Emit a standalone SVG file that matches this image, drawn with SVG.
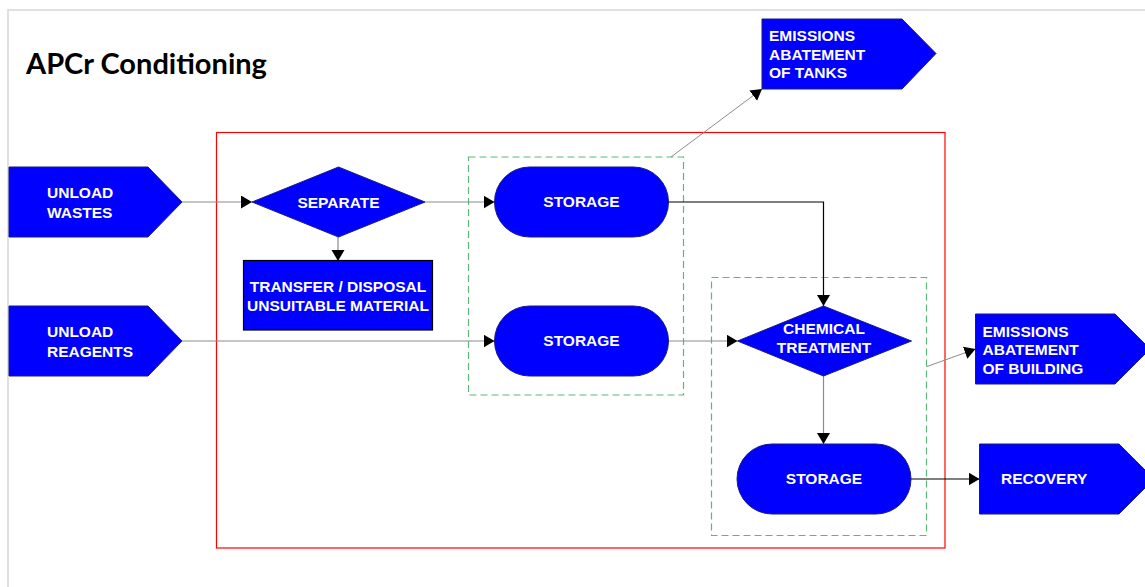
<svg xmlns="http://www.w3.org/2000/svg" width="1145" height="587" viewBox="0 0 1145 587">
<defs>
<style>
.frame{fill:none;stroke:#e0e0e0;stroke-width:2}
.node{fill:#0000ff;stroke:#1a1a80;stroke-width:1}
.box{fill:#0000ff;stroke:#000;stroke-width:1.2}
.lbl{font-family:"Liberation Sans",Arial,sans-serif;font-weight:bold;font-size:15.5px;fill:#fff}
.c{text-anchor:middle}
.gray{fill:none;stroke:#8c8c8c;stroke-width:1.2}
.black{fill:none;stroke:#000;stroke-width:1.2}
.thin{fill:none;stroke:#8c8c8c;stroke-width:1}
.dash{fill:none;stroke:#5cb87a;stroke-width:1.2;stroke-dasharray:7,4}
</style>
<marker id="arr" markerUnits="userSpaceOnUse" markerWidth="12" markerHeight="14" refX="11" refY="6.5" orient="auto">
<path d="M0,0 L11,6.5 L0,13 z" fill="#000"/>
</marker>
</defs>
<rect width="1145" height="587" fill="#fff"/>
<path class="frame" d="M8,587 V10 H1145"/>
<text x="26" y="73.5" font-family="Lato,'Open Sans',sans-serif" font-weight="bold" font-size="29" fill="#000">APCr Conditioning</text>
<rect x="216.5" y="132.5" width="728.5" height="415.5" fill="none" stroke="#f00" stroke-width="1.2"/>
<rect class="dash" x="468.5" y="157" width="215" height="238"/>
<rect class="dash" x="711.5" y="277.5" width="215" height="258"/>
<g id="connectors">
<path class="gray" d="M182,202 H252" marker-end="url(#arr)"/>
<path class="gray" d="M338,237 V261" marker-end="url(#arr)"/>
<path class="gray" d="M425,202 H494.5" marker-end="url(#arr)"/>
<path class="gray" d="M182,341 H494.5" marker-end="url(#arr)"/>
<path class="gray" d="M668,341 H737.5" marker-end="url(#arr)"/>
<path class="black" d="M668,202 H823.5 V306" marker-end="url(#arr)"/>
<path class="gray" d="M823.5,376 V444" marker-end="url(#arr)"/>
<path class="black" d="M911,479 H979.5" marker-end="url(#arr)"/>
<path class="thin" d="M671,157 L762,89" marker-end="url(#arr)"/>
<path class="thin" d="M927,366.5 L975.5,349" marker-end="url(#arr)"/>
</g>
<g id="unload-wastes">
<path class="node" d="M9,167 H148 L182,202 L148,237 H9 Z"/>
<text class="lbl" x="47" y="198">UNLOAD</text>
<text class="lbl" x="47" y="217.5">WASTES</text>
</g>
<g id="unload-reagents">
<path class="node" d="M9,306 H148 L182,341 L148,376 H9 Z"/>
<text class="lbl" x="47" y="337">UNLOAD</text>
<text class="lbl" x="47" y="356.5">REAGENTS</text>
</g>
<g id="separate">
<path class="node" d="M252,202 L338.5,167 L425,202 L338.5,237 Z"/>
<text class="lbl c" x="338.5" y="207.5">SEPARATE</text>
</g>
<g id="transfer">
<rect class="box" x="243.5" y="260.5" width="189" height="69.5"/>
<text class="lbl c" x="338" y="291.5">TRANSFER / DISPOSAL</text>
<text class="lbl c" x="338" y="310.5">UNSUITABLE MATERIAL</text>
</g>
<g id="storage-1">
<rect class="node" x="494.5" y="167" width="174" height="70" rx="35" ry="35"/>
<text class="lbl c" x="581.5" y="207">STORAGE</text>
</g>
<g id="storage-2">
<rect class="node" x="494.5" y="306" width="174" height="70" rx="35" ry="35"/>
<text class="lbl c" x="581.5" y="346">STORAGE</text>
</g>
<g id="chemical-treatment">
<path class="node" d="M737.5,341 L823.5,306 L911.5,341 L823.5,376 Z"/>
<text class="lbl c" x="824" y="334">CHEMICAL</text>
<text class="lbl c" x="824" y="352.5">TREATMENT</text>
</g>
<g id="storage-3">
<rect class="node" x="737" y="444" width="174" height="70" rx="35" ry="35"/>
<text class="lbl c" x="824" y="484">STORAGE</text>
</g>
<g id="emissions-tanks">
<path class="node" d="M762,19 H902 L936,53.5 L902,89 H762 Z"/>
<text class="lbl" x="769" y="41">EMISSIONS</text>
<text class="lbl" x="769" y="59.5">ABATEMENT</text>
<text class="lbl" x="769" y="78">OF TANKS</text>
</g>
<g id="emissions-building">
<path class="node" d="M975.5,314 H1115 L1150,349 L1115,384 H975.5 Z"/>
<text class="lbl" x="982.5" y="336.5">EMISSIONS</text>
<text class="lbl" x="982.5" y="355">ABATEMENT</text>
<text class="lbl" x="982.5" y="373.5">OF BUILDING</text>
</g>
<g id="recovery">
<path class="node" d="M979.5,444 H1119 L1154,479 L1119,514 H979.5 Z"/>
<text class="lbl" x="1001" y="484">RECOVERY</text>
</g>
</svg>
